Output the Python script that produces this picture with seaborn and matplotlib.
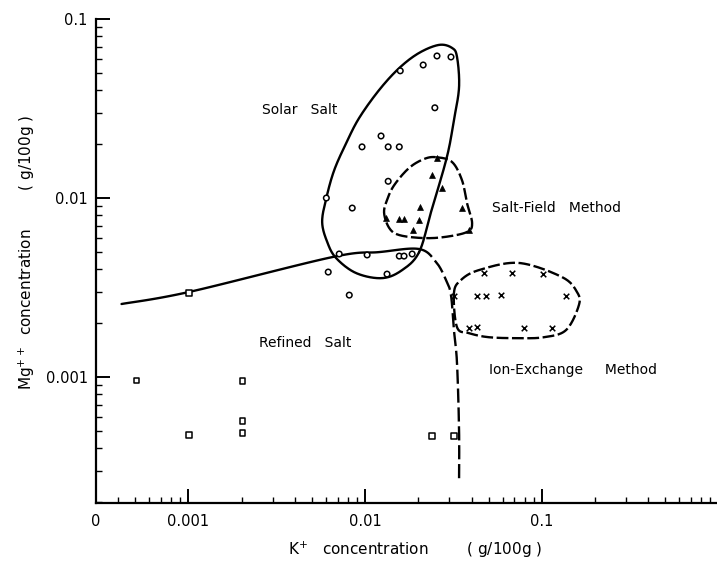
import matplotlib
matplotlib.use("Agg")
import matplotlib.pyplot as plt
import matplotlib.ticker as mticker
import numpy as np
import pandas as pd
import seaborn as sns

sns.set_style("ticks")
plt.rcParams['font.family'] = ['DejaVu Sans']
plt.rcParams['text.color'] = 'black'
plt.rcParams['xtick.color'] = 'black'
plt.rcParams['ytick.color'] = 'black'

# --- measured points (K+ g/100g, Mg++ g/100g) ---
solar_K = [0.0158, 0.0213, 0.0255, 0.0306, 0.0248, 0.0123, 0.0096, 0.0135, 0.0156, 0.0135,
           0.00603, 0.00845, 0.00713, 0.01026, 0.0156, 0.0166, 0.01845, 0.00618, 0.0133, 0.00813]
solar_Mg = [0.0513, 0.0553, 0.0621, 0.0613, 0.0319, 0.0222, 0.0193, 0.0193, 0.0193, 0.0124,
            0.0100, 0.00879, 0.00487, 0.00481, 0.00474, 0.00474, 0.00487, 0.00386, 0.00376, 0.00287]

field_K = [0.0255, 0.0239, 0.0272, 0.0205, 0.0353, 0.0156, 0.0166, 0.01315, 0.0202, 0.0187, 0.0387]
field_Mg = [0.0167, 0.0134, 0.0114, 0.00891, 0.00879, 0.00763, 0.00763, 0.00773, 0.00754, 0.00662, 0.00662]

ion_K = [0.0470, 0.0678, 0.1014, 0.0430, 0.0483, 0.0586, 0.1368, 0.0387, 0.0430, 0.0791, 0.1138, 0.0318]
ion_Mg = [0.00381, 0.00381, 0.00376, 0.00284, 0.00284, 0.00287, 0.00284, 0.00188, 0.0019, 0.00188, 0.00188, 0.00284]

refined_K = [0.00101, 0.000508, 0.00202, 0.00202, 0.00202, 0.00101, 0.0239, 0.0318]
refined_Mg = [0.00294, 0.00096, 0.00095, 0.000567, 0.000487, 0.000474, 0.000468, 0.000468]

# --- hand-drawn group boundaries ---
border_K = [0.000418, 0.00101, 0.00652, 0.0120, 0.0202, 0.0252, 0.0287, 0.0306, 0.0318, 0.0331, 0.0340, 0.0340]
border_Mg = [0.00256, 0.00299, 0.00468, 0.00499, 0.00519, 0.00439, 0.00348, 0.00287, 0.00183, 0.00120, 0.000506, 0.000266]

solar_loop_K = [0.0202, 0.0236, 0.0290, 0.0318, 0.0340, 0.0331, 0.0310, 0.0262, 0.0202, 0.0156, 0.0120,
                0.00925, 0.00782, 0.00668, 0.00603, 0.00571, 0.00610, 0.00685, 0.00889, 0.01247, 0.0162]
solar_loop_Mg = [0.00499, 0.00836, 0.0169, 0.0273, 0.0417, 0.0614, 0.0689, 0.0716, 0.0646, 0.0532, 0.0401,
                 0.0280, 0.0203, 0.0143, 0.0100, 0.00735, 0.00568, 0.00462, 0.00381, 0.00357, 0.00396]

field_loop_K = [0.0252, 0.0310, 0.0353, 0.0377, 0.0403, 0.0377, 0.0279, 0.0210, 0.0156, 0.0137,
                0.0128, 0.0133, 0.0146, 0.0177, 0.0215]
field_loop_Mg = [0.0169, 0.0159, 0.0126, 0.00938, 0.00724, 0.00646, 0.00605, 0.00598, 0.00621, 0.00679,
                 0.00824, 0.00975, 0.0118, 0.0147, 0.0165]

ion_loop_K = [0.0318, 0.0348, 0.0441, 0.0741, 0.130, 0.158, 0.162, 0.137, 0.1026, 0.0741, 0.0502, 0.0387, 0.0331]
ion_loop_Mg = [0.00294, 0.00348, 0.00396, 0.00434, 0.00362, 0.00299, 0.00252, 0.00183, 0.00167, 0.00165,
               0.00167, 0.00176, 0.00190]


def smooth(xs, ys, closed=False, n=24):
    # Catmull-Rom through the points, in log space
    P = np.column_stack([np.log10(xs), np.log10(ys)])
    if closed:
        P = np.vstack([P[-1], P, P[0], P[1]])
    else:
        P = np.vstack([P[0], P, P[-1]])
    out = []
    t = np.linspace(0, 1, n, endpoint=False)[:, None]
    for i in range(1, len(P) - 2):
        p0, p1, p2, p3 = P[i - 1], P[i], P[i + 1], P[i + 2]
        out.append(0.5 * (2 * p1 + (-p0 + p2) * t + (2 * p0 - 5 * p1 + 4 * p2 - p3) * t ** 2
                          + (-p0 + 3 * p1 - 3 * p2 + p3) * t ** 3))
    out.append(P[-2][None])
    res = np.vstack(out)
    return 10 ** res[:, 0], 10 ** res[:, 1]


df = pd.concat([
    pd.DataFrame({'K': solar_K, 'Mg': solar_Mg, 'group': 'Solar Salt'}),
    pd.DataFrame({'K': field_K, 'Mg': field_Mg, 'group': 'Salt-Field Method'}),
    pd.DataFrame({'K': ion_K, 'Mg': ion_Mg, 'group': 'Ion-Exchange Method'}),
    pd.DataFrame({'K': refined_K, 'Mg': refined_Mg, 'group': 'Refined Salt'}),
], ignore_index=True)

fig = plt.figure(figsize=(7.17, 5.73), dpi=100)
ax = fig.add_axes([0.134, 0.122, 0.864, 0.845])

# open circles / squares, filled triangles, crosses
sns.scatterplot(data=df[df['group'].isin(['Solar Salt', 'Refined Salt'])], x='K', y='Mg',
                style='group', markers={'Solar Salt': 'o', 'Refined Salt': 's'},
                s=16, facecolor='white', edgecolor='black', linewidth=1.1, legend=False, ax=ax, zorder=3)
sns.scatterplot(data=df[df['group'] == 'Salt-Field Method'], x='K', y='Mg', marker='^',
                s=18, color='black', edgecolor='black', linewidth=0.5, legend=False, ax=ax, zorder=3)
sns.scatterplot(data=df[df['group'] == 'Ion-Exchange Method'], x='K', y='Mg', marker='x',
                s=16, color='black', linewidth=1.1, legend=False, ax=ax, zorder=3)

# boundaries
bx, by = smooth(border_K, border_Mg)
cut = np.searchsorted(bx, 0.0202)
ax.plot(bx[:cut + 1], by[:cut + 1], color='black', lw=1.7)
ax.plot(bx[cut:], by[cut:], color='black', lw=1.7, ls=(0, (6, 2)))

sx, sy = smooth(solar_loop_K, solar_loop_Mg, closed=True)
ax.plot(sx, sy, color='black', lw=1.7)
fx, fy = smooth(field_loop_K, field_loop_Mg, closed=True)
ax.plot(fx, fy, color='black', lw=1.7, ls=(0, (5, 1.5)))
ix, iy = smooth(ion_loop_K, ion_loop_Mg, closed=True)
ax.plot(ix, iy, color='black', lw=1.7, ls=(0, (5, 1.5)))

# region labels
ax.text(0.00262, 0.0310, 'Solar   Salt', fontsize=10, va='center', ha='left')
ax.text(0.0522, 0.00879, 'Salt-Field   Method', fontsize=10, va='center', ha='left')
ax.text(0.00252, 0.00155, 'Refined   Salt', fontsize=10, va='center', ha='left')
ax.text(0.0502, 0.00109, 'Ion-Exchange     Method', fontsize=10, va='center', ha='left')

ax.set_xscale('log')
ax.set_yscale('log')
ax.set_xlim(3e-4, 0.962)
ax.set_ylim(1.98e-4, 0.1)

x_ticks = [3e-4, 1e-3, 1e-2, 1e-1]
x_labels = ['0', '0.001', '0.01', '0.1']
y_ticks = [1e-3, 1e-2, 1e-1]
y_labels = ['0.001', '0.01', '0.1']
ax.xaxis.set_major_locator(mticker.FixedLocator(x_ticks))
ax.xaxis.set_major_formatter(mticker.FixedFormatter(x_labels))
ax.yaxis.set_major_locator(mticker.FixedLocator(y_ticks))
ax.yaxis.set_major_formatter(mticker.FixedFormatter(y_labels))
ax.xaxis.set_minor_locator(mticker.LogLocator(base=10, subs=np.arange(2, 10)))
ax.yaxis.set_minor_locator(mticker.LogLocator(base=10, subs=np.arange(2, 10)))
ax.xaxis.set_minor_formatter(mticker.NullFormatter())
ax.yaxis.set_minor_formatter(mticker.NullFormatter())
ax.tick_params(which='both', bottom=True, left=True, top=False, right=False)
ax.tick_params(which='major', direction='in', length=10, width=1.4, labelsize=10.5, pad=6)
ax.tick_params(which='minor', direction='in', length=4, width=1.0)
ax.tick_params(axis='x', which='major', pad=8)

sns.despine(ax=ax, top=True, right=True)
for sp in ['left', 'bottom']:
    ax.spines[sp].set_linewidth(1.6)
    ax.spines[sp].set_color('black')

ax.set_xlabel('')
ax.set_ylabel('')
fig.text(0.579, 0.04, 'K$^{+}$   concentration        ( g/100g )', fontsize=11, ha='center', va='center')
fig.text(0.038, 0.56, 'Mg$^{++}$  concentration        ( g/100g )', fontsize=11, ha='center', va='center',
         rotation=90)

fig.savefig('out.png', dpi=100)
